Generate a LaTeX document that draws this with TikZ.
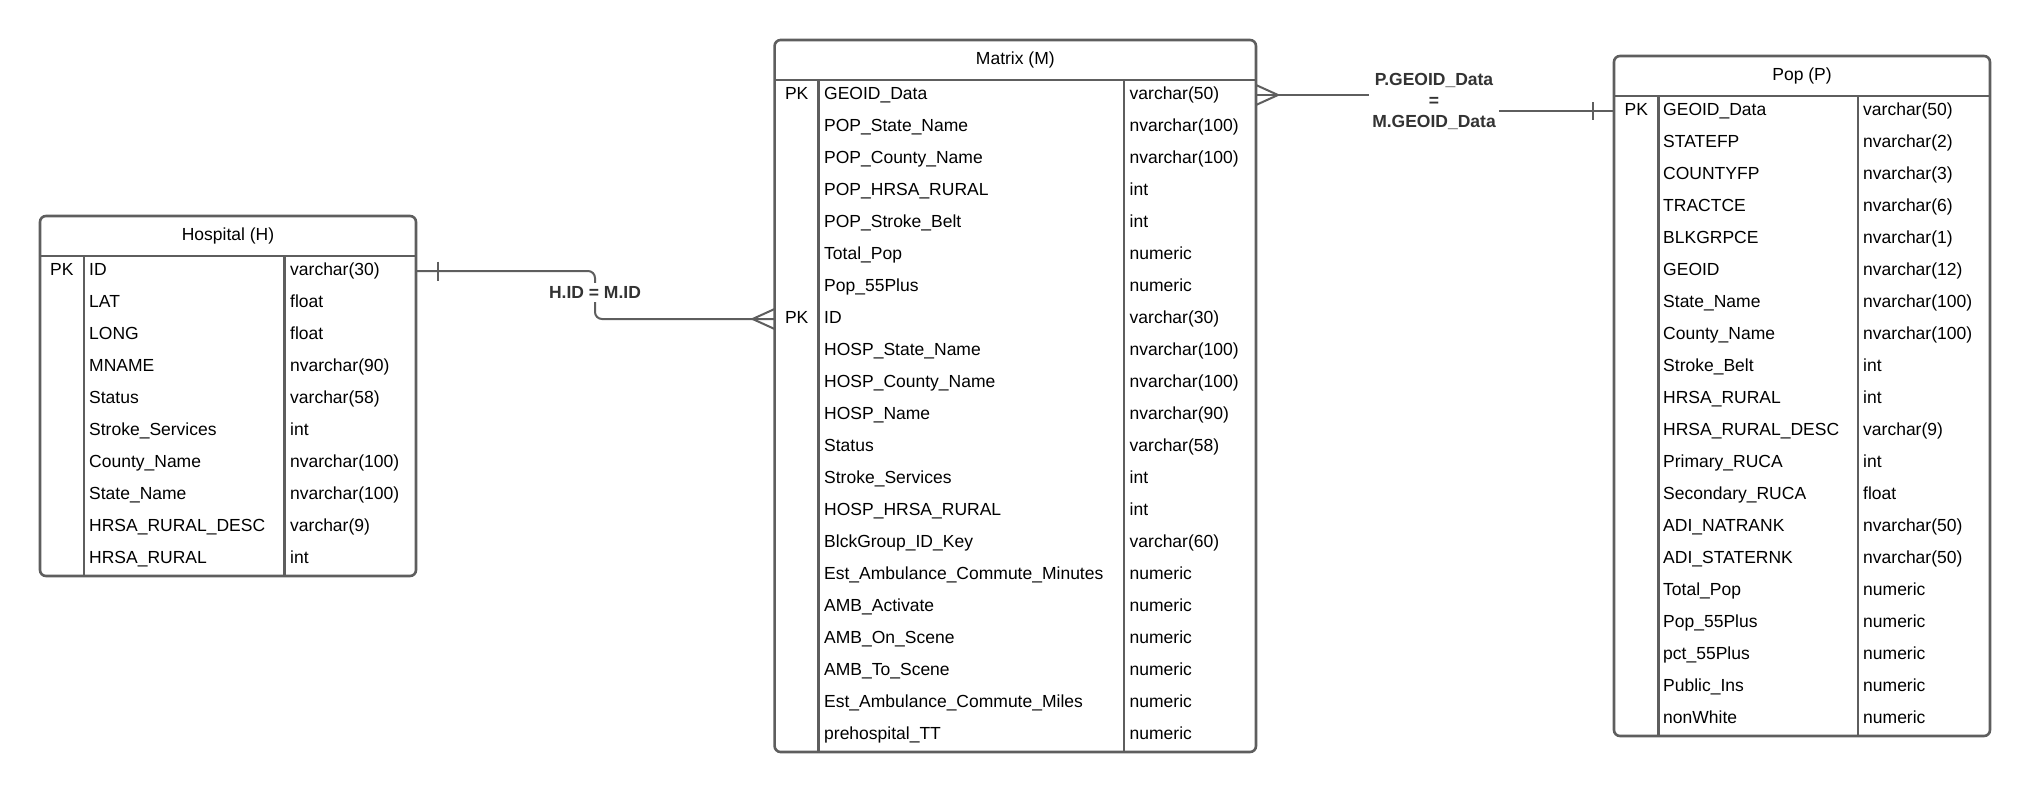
\documentclass[tikz,border=0pt]{standalone}
\usepackage{fontspec}
\setmainfont{Liberation Sans}
\usetikzlibrary{calc}
\definecolor{linegray}{HTML}{5E5E5E}
\definecolor{labgray}{HTML}{333333}
\newcommand\cellfont{\fontsize{17.5}{21.4}\selectfont}
\begin{document}
\begin{tikzpicture}[x=1pt,y=-1pt,
  boxline/.style={draw=linegray, line width=2.6pt},
  inline/.style={draw=linegray, line width=2.4pt},
  conn/.style={draw=linegray, line width=2pt},
  cell/.style={anchor=west, inner sep=0pt, text height=12.6pt, text depth=3.7pt, font=\cellfont},
  titlecell/.style={anchor=center, inner sep=0pt, text height=12.6pt, text depth=3.7pt, font=\cellfont},
  relabel/.style={fill=white, inner sep=3pt, text=labgray, font=\cellfont\bfseries, align=center},
  erbox/.style={boxline, rounded corners=6pt, anchor=north west, inner sep=0pt, outer sep=0pt}
]
\useasboundingbox (0,0) rectangle (2030,792);

% ---------------- Hospital ----------------
\node[erbox, minimum width=376pt, minimum height=360pt] (H) at (40,216) {};
\draw[inline] (40,256) -- (416,256);
\draw[inline] (84,256) -- (84,576);
\draw[inline] (284.4,256) -- (284.4,576);
\node[titlecell] (H-t) at (228,236) {Hospital (H)};
\foreach[count=\i] \k/\f/\t in {PK/ID/varchar(30), {}/LAT/float, {}/LONG/float, {}/MNAME/nvarchar(90), {}/Status/varchar(58), {}/Stroke\_Services/int, {}/County\_Name/nvarchar(100), {}/State\_Name/nvarchar(100), {}/HRSA\_RURAL\_DESC/varchar(9), {}/HRSA\_RURAL/int}{
  \node[cell] (H-\i-k) at (50,{256+32*\i-17}) {\k};
  \node[cell] (H-\i-f) at (89,{256+32*\i-17}) {\f};
  \node[cell] (H-\i-t) at (290,{256+32*\i-17}) {\t};
}

% ---------------- Matrix ----------------
\node[erbox, minimum width=481.4pt, minimum height=712pt] (M) at (774.6,40) {};
\draw[inline] (774.6,80) -- (1256,80);
\draw[inline] (818.3,80) -- (818.3,752);
\draw[inline] (1124,80) -- (1124,752);
\node[titlecell] (M-t) at (1015.3,60) {Matrix (M)};
\foreach[count=\i] \k/\f/\t in {PK/GEOID\_Data/varchar(50), {}/POP\_State\_Name/nvarchar(100), {}/POP\_County\_Name/nvarchar(100), {}/POP\_HRSA\_RURAL/int, {}/POP\_Stroke\_Belt/int, {}/Total\_Pop/numeric, {}/Pop\_55Plus/numeric, PK/ID/varchar(30), {}/HOSP\_State\_Name/nvarchar(100), {}/HOSP\_County\_Name/nvarchar(100), {}/HOSP\_Name/nvarchar(90), {}/Status/varchar(58), {}/Stroke\_Services/int, {}/HOSP\_HRSA\_RURAL/int, {}/BlckGroup\_ID\_Key/varchar(60), {}/Est\_Ambulance\_Commute\_Minutes/numeric, {}/AMB\_Activate/numeric, {}/AMB\_On\_Scene/numeric, {}/AMB\_To\_Scene/numeric, {}/Est\_Ambulance\_Commute\_Miles/numeric, {}/prehospital\_TT/numeric}{
  \node[cell] (M-\i-k) at (784.8,{80+32*\i-17}) {\k};
  \node[cell] (M-\i-f) at (824,{80+32*\i-17}) {\f};
  \node[cell] (M-\i-t) at (1129.5,{80+32*\i-17}) {\t};
}

% ---------------- Pop ----------------
\node[erbox, minimum width=376pt, minimum height=680pt] (P) at (1614,56) {};
\draw[inline] (1614,96) -- (1990,96);
\draw[inline] (1658.5,96) -- (1658.5,736);
\draw[inline] (1857.7,96) -- (1857.7,736);
\node[titlecell] (P-t) at (1802,76) {Pop (P)};
\foreach[count=\i] \k/\f/\t in {PK/GEOID\_Data/varchar(50), {}/STATEFP/nvarchar(2), {}/COUNTYFP/nvarchar(3), {}/TRACTCE/nvarchar(6), {}/BLKGRPCE/nvarchar(1), {}/GEOID/nvarchar(12), {}/State\_Name/nvarchar(100), {}/County\_Name/nvarchar(100), {}/Stroke\_Belt/int, {}/HRSA\_RURAL/int, {}/HRSA\_RURAL\_DESC/varchar(9), {}/Primary\_RUCA/int, {}/Secondary\_RUCA/float, {}/ADI\_NATRANK/nvarchar(50), {}/ADI\_STATERNK/nvarchar(50), {}/Total\_Pop/numeric, {}/Pop\_55Plus/numeric, {}/pct\_55Plus/numeric, {}/Public\_Ins/numeric, {}/nonWhite/numeric}{
  \node[cell] (P-\i-k) at (1624.5,{96+32*\i-17}) {\k};
  \node[cell] (P-\i-f) at (1663,{96+32*\i-17}) {\f};
  \node[cell] (P-\i-t) at (1863,{96+32*\i-17}) {\t};
}

% ---------------- H -- M ----------------
\coordinate (hid) at (H.east |- H-1-f);
\coordinate (mid) at (M.west |- M-8-f);
\coordinate (hmc) at (595,292.5);
\draw[conn, rounded corners=7pt] (hid) -| (hmc) |- (mid);
\draw[conn] ($(hid)+(21.7,-9.5)$) -- ($(hid)+(21.7,9.5)$);
\draw[conn] ($(mid)+(0,-10)$) -- ($(mid)+(-22,0)$) -- ($(mid)+(0,10)$);
\node[relabel] (hmlab) at (hmc) {H.ID = M.ID};

% ---------------- M -- P ----------------
\coordinate (mge) at (M.east |- M-1-f);
\coordinate (pge) at (P.west |- P-1-f);
\coordinate (mpc) at (1434,101.5);
\draw[conn] (mge) -| (mpc) |- (pge);
\draw[conn] ($(mge)+(0,-10)$) -- ($(mge)+(22,0)$) -- ($(mge)+(0,10)$);
\draw[conn] ($(pge)+(-21,-9)$) -- ($(pge)+(-21,9)$);
\node[relabel] (mplab) at (mpc) {P.GEOID\_Data\\=\\M.GEOID\_Data};
\end{tikzpicture}
\end{document}
